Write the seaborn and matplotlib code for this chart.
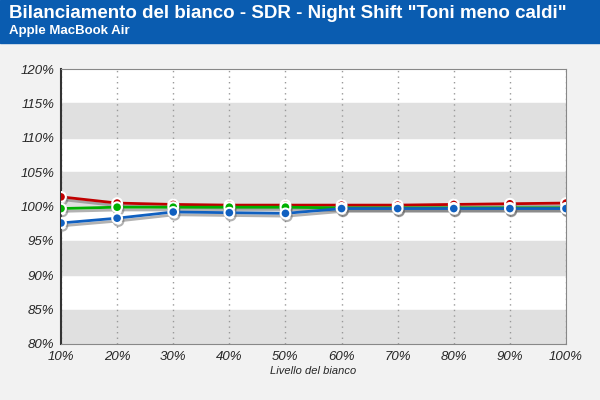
import matplotlib
matplotlib.use("Agg")
import matplotlib.pyplot as plt
import seaborn as sns
import pandas as pd
import matplotlib.patheffects as pe

levels = ["10%","20%","30%","40%","50%","60%","70%","80%","90%","100%"]
red   = [101.4,100.5,100.3,100.2,100.2,100.2,100.2,100.3,100.4,100.5]
green = [99.7,99.9,99.9,99.9,99.9,99.8,99.8,99.8,99.8,99.8]
blue  = [97.6,98.3,99.2,99.1,99.0,99.7,99.7,99.7,99.7,99.7]
yticks = [80,85,90,95,100,105,110,115,120]

sns.set_style("white")
plt.rcParams['font.family'] = ['Liberation Sans', 'DejaVu Sans']
fig = plt.figure(figsize=(6,4), dpi=100, facecolor="#f2f2f2")
fig.patches.append(plt.Rectangle((0,1-43/400),1,43/400,transform=fig.transFigure,color="#0a5cb0",zorder=0))
fig.text(0.015,0.965,'Bilanciamento del bianco - SDR - Night Shift "Toni meno caldi"',color="white",fontsize=13.5,fontweight="bold",va="center")
fig.text(0.015,0.922,'Apple MacBook Air',color="white",fontsize=9.5,fontweight="bold",va="center")

ax = fig.add_axes([61/600,1-344/400,505/600,275/400])
ax.set_facecolor("white")
for i,lo in enumerate(range(80,120,5)):
    if i%2==0:
        ax.axhspan(lo,lo+5,color="#e0e0e0",zorder=0)
x = list(range(len(levels)))
df = pd.DataFrame({"x":x*3,"v":red+green+blue,"s":["r"]*10+["g"]*10+["b"]*10})
pal = {"r":"#c00000","g":"#00b000","b":"#1060c0"}
shadow=[pe.SimpleLineShadow(offset=(1,-2),shadow_color="#666",alpha=0.5),pe.Normal()]
sns.lineplot(data=df,x="x",y="v",hue="s",palette=pal,linewidth=2,marker="o",markersize=7,
             markeredgecolor="white",markeredgewidth=1.5,legend=False,ax=ax,path_effects=shadow,zorder=3)
for xi in x:
    ax.axvline(xi,color="#999",ls=(0,(1,3)),lw=1,zorder=1)
ax.set_xlim(0,9); ax.set_ylim(80,120)
ax.set_xticks(x); ax.set_xticklabels(levels,fontsize=9.5,style="italic")
ax.set_yticks(yticks); ax.set_yticklabels([f"{t}%" for t in yticks],fontsize=9.5,style="italic")
ax.set_xlabel("Livello del bianco",fontsize=8,style="italic",labelpad=2)
ax.set_ylabel("")
for s in ax.spines.values(): s.set_color("#888")
ax.spines["left"].set_color("#333"); ax.spines["left"].set_linewidth(1.5)
ax.tick_params(length=0,pad=5)
fig.savefig("out.png",dpi=100,facecolor=fig.get_facecolor())
